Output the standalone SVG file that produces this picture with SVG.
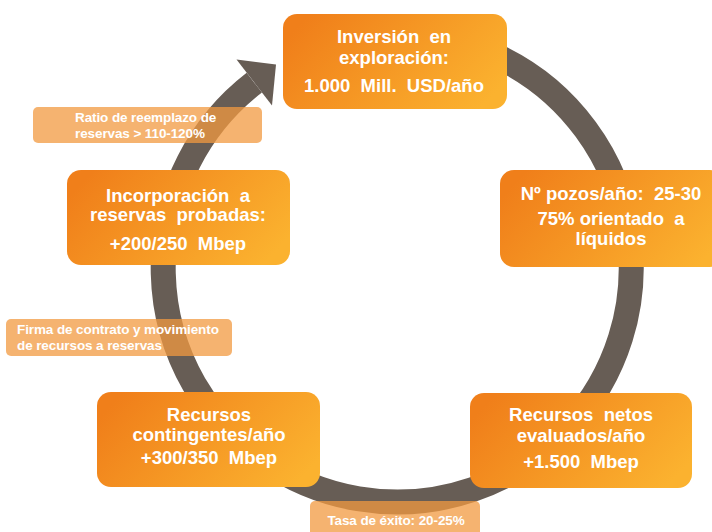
<svg xmlns="http://www.w3.org/2000/svg" width="712" height="532" viewBox="0 0 712 532">
<style>
.box{fill:url(#og)}
.bt{font-family:"Liberation Sans",Arial,sans-serif;font-weight:bold;font-size:18.5px;fill:#fff;text-anchor:middle;white-space:pre}
.lab{fill:#f29a40;fill-opacity:0.75}
.lt{font-family:"Liberation Sans",Arial,sans-serif;font-weight:bold;font-size:13.5px;fill:#fff;letter-spacing:-0.1px}
.ring{fill:none;stroke:#675d55;stroke-width:25}
</style>
<defs>
<linearGradient id="og" x1="0" y1="0.3" x2="1" y2="0.7">
<stop offset="0" stop-color="#f07f1a"/>
<stop offset="1" stop-color="#fbb22f"/>
</linearGradient>
</defs>
<rect width="712" height="532" fill="#fff"/>
<g id="connectors">
<path class="ring" d="M 397 34 A 234 234 0 1 1 254.3 82.7"/>
<polygon points="236.5,59.5 276,64.5 272,105.5" fill="#675d55"/>
</g>
<g id="n-inversion">
<rect class="box" x="283" y="14" width="224" height="95" rx="14"/>
<text class="bt" x="394" y="43">Inversión  en</text>
<text class="bt" x="394" y="64">exploración:</text>
<text class="bt" x="394" y="92">1.000  Mill.  USD/año</text>
</g>
<g id="n-pozos">
<rect class="box" x="500" y="170" width="224" height="97" rx="14"/>
<text class="bt" x="611" y="200">Nº pozos/año:  25-30</text>
<text class="bt" x="611" y="225">75% orientado  a</text>
<text class="bt" x="611" y="245">líquidos</text>
</g>
<g id="n-netos">
<rect class="box" x="470" y="393" width="222" height="95" rx="14"/>
<text class="bt" x="581" y="421">Recursos  netos</text>
<text class="bt" x="581" y="442">evaluados/año</text>
<text class="bt" x="581" y="468">+1.500  Mbep</text>
</g>
<g id="n-contingentes">
<rect class="box" x="97" y="392" width="223" height="95" rx="14"/>
<text class="bt" x="209" y="421">Recursos</text>
<text class="bt" x="209" y="441">contingentes/año</text>
<text class="bt" x="209" y="464">+300/350  Mbep</text>
</g>
<g id="n-incorporacion">
<rect class="box" x="67" y="170" width="223" height="95" rx="14"/>
<text class="bt" x="178" y="202">Incorporación  a</text>
<text class="bt" x="178" y="221">reservas  probadas:</text>
<text class="bt" x="178" y="250">+200/250  Mbep</text>
</g>
<g id="l-ratio">
<rect class="lab" x="33" y="107" width="229" height="36" rx="5"/>
<text class="lt" x="75" y="122">Ratio de reemplazo de</text>
<text class="lt" x="75" y="138">reservas &gt; 110-120%</text>
</g>
<g id="l-firma">
<rect class="lab" x="6" y="319" width="226" height="37" rx="5"/>
<text class="lt" x="17" y="334">Firma de contrato y movimiento</text>
<text class="lt" x="17" y="350">de recursos a reservas</text>
</g>
<g id="l-tasa">
<rect class="lab" x="310" y="501" width="170" height="40" rx="5"/>
<text class="lt" x="396" y="525" text-anchor="middle">Tasa de éxito: 20-25%</text>
</g>
</svg>
